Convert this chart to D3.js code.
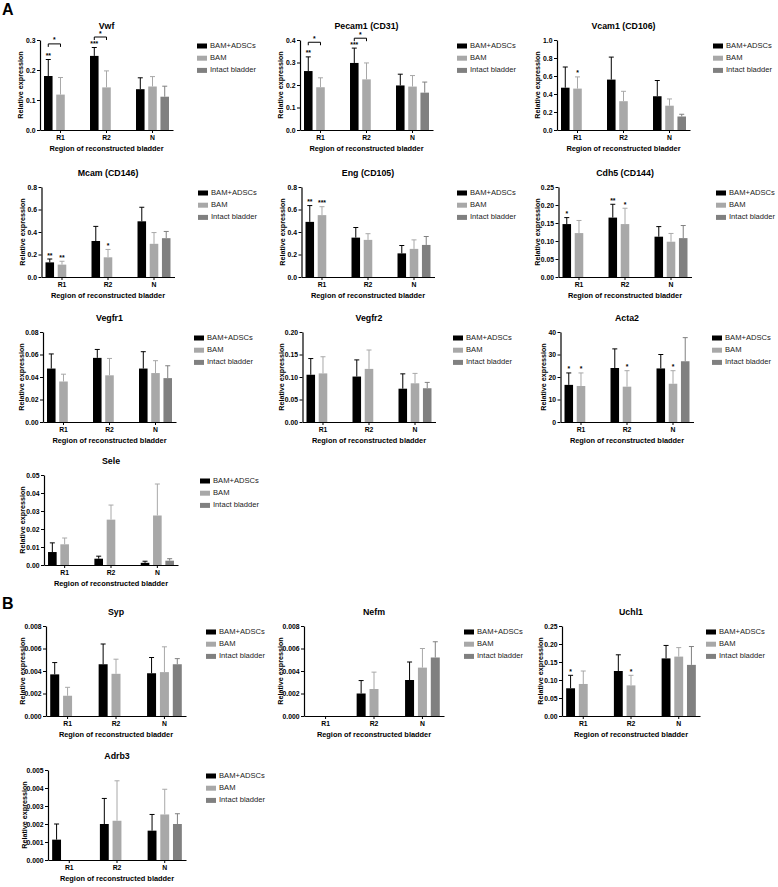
<!DOCTYPE html>
<html><head><meta charset="utf-8">
<script src="https://cdn.jsdelivr.net/npm/d3@7"></script>
<style>
body{margin:0;background:#fff;}
svg{display:block;font-family:"Liberation Sans",Arial,sans-serif;}
</style></head>
<body><svg id="c" width="778" height="887"></svg>
<script>
// ---------- data ----------
const groups = ["R1", "R2", "N"];
const seriesNames = ["BAM+ADSCs", "BAM", "Intact bladder"];
const seriesColors = ["#000000", "#a8a8a8", "#808080"];
const xTitle = "Region of reconstructed bladder";
const yTitle = "Relative expression";

// means [group][series], errors (upper SD) [group][series], stars [group][series]
const vwfMean = [[0.18, 0.118, null], [0.247, 0.142, null], [0.136, 0.145, 0.111]];
const vwfErr = [[0.055, 0.057, 0], [0.028, 0.055, 0], [0.038, 0.033, 0.035]];
const vwfStars = [["**", "", ""], ["***", "", ""], ["", "", ""]];
const vwfBrackets = [[0, 0.287], [1, 0.31]];

const pecamMean = [[0.262, 0.19, null], [0.298, 0.225, null], [0.198, 0.193, 0.166]];
const pecamErr = [[0.063, 0.042, 0], [0.066, 0.073, 0], [0.05, 0.049, 0.047]];
const pecamStars = [["**", "", ""], ["***", "", ""], ["", "", ""]];
const pecamBrackets = [[0, 0.39], [1, 0.408]];

const vcamMean = [[0.47, 0.46, null], [0.56, 0.32, null], [0.375, 0.27, 0.15]];
const vcamErr = [[0.23, 0.13, 0], [0.25, 0.11, 0], [0.175, 0.075, 0.025]];
const vcamStars = [["", "*", ""], ["", "", ""], ["", "", ""]];

const mcamMean = [[0.13, 0.11, null], [0.32, 0.175, null], [0.495, 0.295, 0.345]];
const mcamErr = [[0.03, 0.03, 0], [0.13, 0.07, 0], [0.125, 0.1, 0.06]];
const mcamStars = [["**", "**", ""], ["", "*", ""], ["", "", ""]];

const engMean = [[0.49, 0.55, null], [0.35, 0.33, null], [0.21, 0.25, 0.285]];
const engErr = [[0.145, 0.075, 0], [0.09, 0.055, 0], [0.07, 0.08, 0.075]];
const engStars = [["**", "***", ""], ["", "", ""], ["", "", ""]];

const cdh5Mean = [[0.147, 0.122, null], [0.165, 0.147, null], [0.112, 0.098, 0.108]];
const cdh5Err = [[0.018, 0.035, 0], [0.037, 0.044, 0], [0.028, 0.023, 0.035]];
const cdh5Stars = [["*", "", ""], ["**", "*", ""], ["", "", ""]];

const vegfr1Mean = [[0.0475, 0.036, null], [0.057, 0.0415, null], [0.0475, 0.0435, 0.039]];
const vegfr1Err = [[0.013, 0.0065, 0], [0.0075, 0.015, 0], [0.015, 0.011, 0.011]];

const vegfr2Mean = [[0.105, 0.108, null], [0.101, 0.118, null], [0.074, 0.086, 0.075]];
const vegfr2Err = [[0.036, 0.037, 0], [0.037, 0.042, 0], [0.033, 0.022, 0.013]];

const acta2Mean = [[16.5, 16, null], [24, 15.7, null], [23.8, 17, 27]];
const acta2Err = [[5.3, 5.8, 0], [8.5, 7.1, 0], [6.2, 5.8, 10.5]];
const acta2Stars = [["*", "*", ""], ["", "*", ""], ["", "*", ""]];

const seleMean = [[0.0072, 0.0115, null], [0.0035, 0.0252, null], [0.0012, 0.0275, 0.0024]];
const seleErr = [[0.0051, 0.0035, 0], [0.0014, 0.0081, 0], [0.0009, 0.0175, 0.0011]];

const sypMean = [[0.0037, 0.0018, null], [0.0046, 0.00375, null], [0.0038, 0.0039, 0.0046]];
const sypErr = [[0.00105, 0.00075, 0], [0.0018, 0.0013, 0], [0.0014, 0.00225, 0.0005]];

const nefmMean = [[null, null, null], [0.002, 0.0024, null], [0.0032, 0.0043, 0.0052]];
const nefmErr = [[0, 0, 0], [0.00115, 0.0015, 0], [0.0016, 0.0017, 0.0014]];

const uchl1Mean = [[0.077, 0.089, null], [0.125, 0.085, null], [0.16, 0.165, 0.142]];
const uchl1Err = [[0.036, 0.036, 0], [0.045, 0.028, 0], [0.036, 0.025, 0.051]];
const uchl1Stars = [["*", "", ""], ["", "*", ""], ["", "", ""]];

const adrb3Mean = [[0.00113, null, null], [0.002, 0.00218, null], [0.00163, 0.00253, 0.002]];
const adrb3Err = [[0.00087, 0, 0], [0.00142, 0.00222, 0], [0.0009, 0.0014, 0.00057]];

// titles, y maxima, tick steps, decimals
const panelTitles = ["Vwf", "Pecam1 (CD31)", "Vcam1 (CD106)", "Mcam (CD146)", "Eng (CD105)", "Cdh5 (CD144)",
  "Vegfr1", "Vegfr2", "Acta2", "Sele", "Syp", "Nefm", "Uchl1", "Adrb3"];
const yMax = [0.3, 0.4, 1.0, 0.8, 0.8, 0.25, 0.08, 0.2, 40, 0.05, 0.008, 0.008, 0.25, 0.005];
const yStep = [0.1, 0.1, 0.2, 0.2, 0.2, 0.05, 0.02, 0.05, 10, 0.01, 0.002, 0.002, 0.05, 0.001];
const yDecimals = [1, 1, 1, 1, 1, 2, 2, 2, 0, 2, 3, 3, 2, 3];
const panelMeans = [vwfMean, pecamMean, vcamMean, mcamMean, engMean, cdh5Mean, vegfr1Mean, vegfr2Mean, acta2Mean, seleMean, sypMean, nefmMean, uchl1Mean, adrb3Mean];
const panelErrs = [vwfErr, pecamErr, vcamErr, mcamErr, engErr, cdh5Err, vegfr1Err, vegfr2Err, acta2Err, seleErr, sypErr, nefmErr, uchl1Err, adrb3Err];
const panelStars = [vwfStars, pecamStars, vcamStars, mcamStars, engStars, cdh5Stars, null, null, acta2Stars, null, null, null, uchl1Stars, null];
const panelBrackets = [vwfBrackets, pecamBrackets, null, null, null, null, null, null, null, null, null, null, null, null];

// ---------- layout ----------
const svg = d3.select("#c");
const H = 90;
const axisX = [40, 300, 557, 41.5, 301.5, 558.5, 43, 302.5, 560.5, 44, 46, 304, 562, 48];
const plotTop = [40, 40, 40, 187, 187, 187, 332, 332, 332, 475, 626, 626, 626, 770];
const plotW = [133, 133, 133, 133, 133, 133, 133, 133, 133, 134, 140, 140, 138, 138];
const legendX = [197, 457, 713, 198, 457, 716, 194, 453, 712, 200, 206, 464, 706, 206];
const yTitleOff = [17, 17, 17, 17, 17, 19, 19, 19, 15, 19, 21, 21, 19, 21];
const FONT = '"Liberation Sans",Arial,sans-serif';

svg.append("text").attr("x", 2).attr("y", 15).attr("font-size", 16).attr("font-weight", "bold").text("A");
svg.append("text").attr("x", 2).attr("y", 609).attr("font-size", 16).attr("font-weight", "bold").text("B");

function drawPanel(i) {
  const p = { x: axisX[i], y: plotTop[i], w: plotW[i] };
  const g = svg.append("g");
  const y = d3.scaleLinear().domain([0, yMax[i]]).range([p.y + H, p.y]);
  const xg = d3.scaleBand().domain(groups).range([p.x, p.x + p.w]).paddingInner(0.283).paddingOuter(0.087);
  const xs = d3.scaleBand().domain([0, 1, 2]).range([0, xg.bandwidth()]).paddingInner(0.3);
  const means = panelMeans[i], errs = panelErrs[i], stars = panelStars[i];

  groups.forEach((grp, gi) => {
    seriesNames.forEach((s, si) => {
      const m = means[gi][si];
      if (m === null || m === undefined) return;
      const bx = xg(grp) + xs(si), bw = xs.bandwidth(), cx = bx + bw / 2;
      const col = seriesColors[si];
      const e = errs[gi][si] || 0;
      if (e > 0) {
        g.append("line").attr("x1", cx).attr("x2", cx).attr("y1", y(m)).attr("y2", y(m + e))
          .attr("stroke", col).attr("stroke-width", 1);
        g.append("line").attr("x1", cx - 2.5).attr("x2", cx + 2.5).attr("y1", y(m + e)).attr("y2", y(m + e))
          .attr("stroke", col).attr("stroke-width", 1);
      }
      g.append("rect").attr("x", bx).attr("y", y(m)).attr("width", bw).attr("height", y(0) - y(m)).attr("fill", col);
      if (stars && stars[gi][si]) {
        g.append("text").attr("x", cx).attr("y", y(m + e) - 1.5).attr("text-anchor", "middle")
          .attr("font-size", 6.8).attr("font-weight", "bold").attr("fill", "#000").text(stars[gi][si]);
      }
    });
  });

  const br = panelBrackets[i];
  if (br) {
    br.forEach(([gi, yv]) => {
      const c0 = xg(groups[gi]) + xs(0) + xs.bandwidth() / 2;
      const c1 = xg(groups[gi]) + xs(1) + xs.bandwidth() / 2;
      const yy = y(yv);
      g.append("path").attr("d", `M${c0},${yy + 3}V${yy}H${c1}V${yy + 3}`)
        .attr("fill", "none").attr("stroke", "#000").attr("stroke-width", 1);
      g.append("text").attr("x", (c0 + c1) / 2).attr("y", yy - 1.5).attr("text-anchor", "middle")
        .attr("font-size", 6.8).attr("font-weight", "bold").attr("fill", "#000").text("*");
    });
  }

  const ticks = d3.range(0, yMax[i] + yStep[i] / 2, yStep[i]);
  const ya = g.append("g").attr("transform", `translate(${p.x},0)`)
    .call(d3.axisLeft(y).tickValues(ticks).tickFormat(d3.format(`.${yDecimals[i]}f`)).tickSize(3).tickSizeOuter(0).tickPadding(1.5));
  const xa = g.append("g").attr("transform", `translate(0,${p.y + H})`)
    .call(d3.axisBottom(xg).tickSize(3).tickSizeOuter(0).tickPadding(2));
  [ya, xa].forEach(a => {
    a.select(".domain").attr("stroke", "#000").attr("stroke-width", 1.2);
    a.selectAll(".tick line").attr("stroke", "#000");
    a.selectAll(".tick text").attr("font-size", 6.8).attr("font-weight", "bold").attr("fill", "#000")
      .attr("font-family", FONT);
  });

  g.append("text").attr("x", p.x + p.w / 2).attr("y", p.y - 11.5).attr("text-anchor", "middle")
    .attr("font-size", 8.8).attr("font-weight", "bold").text(panelTitles[i]);
  g.append("text").attr("transform", `translate(${p.x - yTitleOff[i]},${p.y + H / 2}) rotate(-90)`).attr("text-anchor", "middle")
    .attr("font-size", 7.2).attr("font-weight", "bold").text(yTitle);
  g.append("text").attr("x", p.x + p.w / 2).attr("y", p.y + H + 21).attr("text-anchor", "middle")
    .attr("font-size", 7.4).attr("font-weight", "bold").text(xTitle);

  const lx = legendX[i];
  seriesNames.forEach((s, si) => {
    const ly = p.y + 6 + 12.2 * si;
    g.append("rect").attr("x", lx).attr("y", ly - 2.5).attr("width", 10).attr("height", 5).attr("fill", seriesColors[si]);
    g.append("text").attr("x", lx + 13).attr("y", ly).attr("dominant-baseline", "middle")
      .attr("font-size", 7.6).attr("fill", "#222").text(s);
  });
}

for (let i = 0; i < panelTitles.length; i++) drawPanel(i);
</script></body></html>
